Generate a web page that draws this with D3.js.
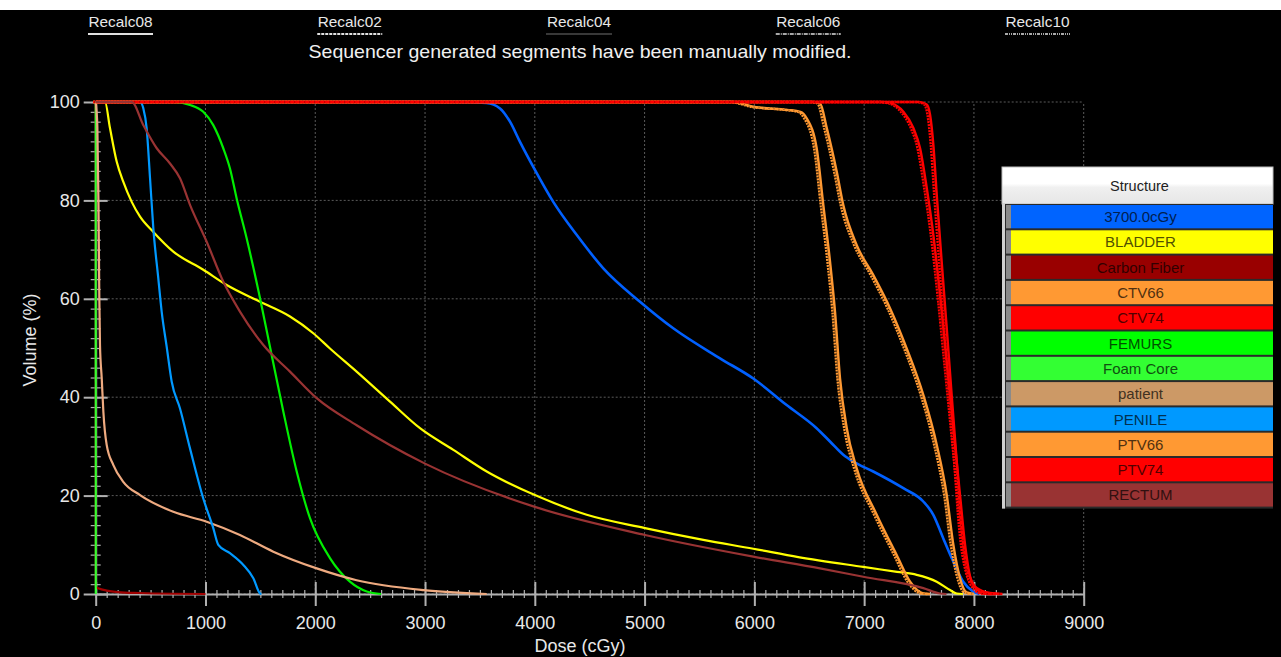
<!DOCTYPE html>
<html><head><meta charset="utf-8">
<script src="https://cdn.jsdelivr.net/npm/d3@7/dist/d3.min.js"></script>
<style>
html,body{margin:0;padding:0;background:#000;}
svg{display:block;font-family:"Liberation Sans",Arial,sans-serif;}
</style></head>
<body>
<svg id="chart" width="1281" height="657"></svg>
<script>
// ---------------- data ----------------
const planNames = ["Recalc08","Recalc02","Recalc04","Recalc06","Recalc10"];
const planDashes = ["none","3,1","1,1","4,1,1,1","3,1,1,1,1,1"];
const planWidths = [2,2,1,1.5,1.5];
const subtitle = "Sequencer generated segments have been manually modified.";
const doseTicks = [0,1000,2000,3000,4000,5000,6000,7000,8000,9000];
const volTicks = [0,20,40,60,80,100];
const structureNames = ["3700.0cGy","BLADDER","Carbon Fiber","CTV66","CTV74","FEMURS","Foam Core","patient","PENILE","PTV66","PTV74","RECTUM"];
const structureColors = ["#0064ff","#ffff00","#990000","#ff9933","#ff0000","#00ff00","#33ff33","#cc9966","#0099ff","#ff9933","#ff0000","#993333"];
const lineColors = ["#0060ff","#ffff00","#a00000","#ff9933","#ff0000","#00ee00","#33ff33","#eeaa80","#0099ff","#ff9933","#ff0000","#993333"];

// [dose cGy, volume %]
const iso3700 = [[0,100],[3300,100],[3560,99.8],[3683,98.7],[3774,96],[3865,91.9],[4001,86.2],[4168,79.7],[4381,73],[4624,66.2],[4958,59.4],[5261,54],[5687,47.9],[5990,43.8],[6294,38.4],[6567,33.7],[6689,31],[6810,28.3],[6901,26.9],[7083,24.9],[7357,21.5],[7539,18.8],[7630,16.1],[7721,11.3],[7812,6.6],[7903,2.5],[7994,0.5],[8050,0]];
const bladder = [[0,100],[85,100],[130,94.7],[191,87.9],[251,83.8],[328,79.7],[404,76.7],[525,73.6],[707,69.6],[980,65.9],[1193,62.8],[1497,59.4],[1770,56.4],[1982,53],[2134,49.9],[2377,45.2],[2681,39.1],[2954,33.7],[3258,29.3],[3562,24.9],[4001,20.1],[4473,16.1],[5004,13.4],[5535,11],[5990,9.2],[6400,7.5],[6992,5.5],[7300,4.5],[7479,3.9],[7661,2.5],[7782,0.8],[7843,0.1],[7900,0]];
const carbonFiber = [[0,100],[1,1.5],[30,1.1],[100,0.7],[200,0.4],[400,0.2],[700,0.05],[1000,0]];
const ctv66 = [[0,100],[6540,100],[6598,99.7],[6659,94.7],[6750,85.8],[6810,79],[6932,70.9],[7083,64.8],[7235,58.1],[7387,49.9],[7539,40.4],[7661,30.3],[7752,20.1],[7812,10],[7873,3.2],[7934,0.3],[8000,0]];
const ctv74 = [[0,100],[7500,100],[7570,99.5],[7600,97.4],[7630,91.3],[7661,81.1],[7706,67.5],[7752,54],[7797,40.4],[7843,26.9],[7888,13.4],[7949,4.5],[8025,1.2],[8146,0.2],[8260,0]];
const femurs = [[0,100],[706,100],[859,99.4],[980,98],[1071,95.3],[1162,90.6],[1223,86.5],[1284,80.4],[1375,72.3],[1497,60.1],[1588,50.2],[1709,37.1],[1831,24.9],[1952,15.4],[2134,7.3],[2316,2.5],[2469,0.5],[2600,0]];
const foamCore = [[0,100],[1,0]];
const patient = [[0,100],[15,95],[25,80],[33,60],[39,50.6],[55,43.8],[70,37],[100,30.3],[161,26.2],[251,22.8],[404,20.1],[707,16.7],[1011,14.7],[1314,12],[1618,8.6],[2013,5.2],[2377,2.8],[2985,0.8],[3562,0]];
const penile = [[0,100],[404,100],[434,98.7],[464,94.7],[495,84.5],[525,74.3],[570,64.2],[601,57.4],[647,50.2],[692,43.2],[768,37.7],[859,29.6],[980,19.4],[1071,13.4],[1117,10],[1223,8.3],[1345,5.9],[1436,3.2],[1497,0.1],[1510,0]];
const ptv66 = [[0,100],[5800,100],[6000,99],[6300,98.4],[6420,98],[6476,96.7],[6567,90.6],[6628,79],[6689,67.5],[6734,57.4],[6780,43.8],[6841,33.7],[6932,25.5],[7114,16.1],[7296,7.9],[7418,2.5],[7539,0.1],[7600,0]];
const ptv74 = [[0,100],[7150,100],[7235,99.8],[7357,98],[7448,94.7],[7509,90.6],[7570,82.5],[7630,73],[7691,60.8],[7752,47.2],[7812,33.7],[7873,20.1],[7919,10],[7980,2.5],[8085,0.1],[8200,0]];
const rectum = [[0,100],[328,100],[434,95.3],[556,90.6],[677,87.5],[768,84.5],[859,79.1],[1011,71.6],[1162,63.5],[1314,57.4],[1527,50.6],[1770,45.2],[2013,39.8],[2377,34.3],[3000,26.5],[4001,17.7],[5004,12],[5990,7.6],[6598,5.2],[6992,3.5],[7539,1.2],[7691,0.1],[7750,0]];
const seriesData = [iso3700,bladder,carbonFiber,ctv66,ctv74,femurs,foamCore,patient,penile,ptv66,ptv74,rectum];
const texturedSeries = ["CTV66","CTV74","PTV66","PTV74"];

// ---------------- layout ----------------
const svg = d3.select("#chart");
const W = 1281, H = 657;
svg.append("rect").attr("x",0).attr("y",0).attr("width",W).attr("height",H).attr("fill","#000");
svg.append("rect").attr("x",0).attr("y",0).attr("width",W).attr("height",10).attr("fill","#fff");

const x = d3.scaleLinear().domain([0,9000]).range([95.7,1083.7]);
const y = d3.scaleLinear().domain([0,100]).range([594,102]);

// plan tabs
const tabX = d3.scalePoint().domain(planNames).range([120.5,1037.5]);
const tabs = svg.append("g");
planNames.forEach((p,i)=>{
  tabs.append("text").attr("x",tabX(p)).attr("y",27).attr("text-anchor","middle")
    .attr("fill","#e8e8e8").attr("font-size",15).attr("textLength",64).attr("lengthAdjust","spacingAndGlyphs").text(p);
  tabs.append("line").attr("x1",tabX(p)-32.5).attr("x2",tabX(p)+32.5).attr("y1",34).attr("y2",34)
    .attr("stroke","#e0e0e0").attr("stroke-width",planWidths[i]).attr("stroke-dasharray",planDashes[i]);
});
svg.append("text").attr("x",580).attr("y",58).attr("text-anchor","middle")
  .attr("fill","#f0f0f0").attr("font-size",18.5).attr("textLength",543).attr("lengthAdjust","spacingAndGlyphs").text(subtitle);

// gridlines
const grid = svg.append("g").attr("stroke","#5a5a5a").attr("stroke-width",1).attr("stroke-dasharray","2,2");
doseTicks.forEach(d=>grid.append("line").attr("x1",x(d)).attr("x2",x(d)).attr("y1",y(0)).attr("y2",y(100)));
volTicks.forEach(v=>grid.append("line").attr("x1",x(0)).attr("x2",x(9000)).attr("y1",y(v)).attr("y2",y(v)));

// x axis
const axisCol = "#b0b0b0";
const xMinor = svg.append("g").attr("transform",`translate(0,${y(0)})`)
  .call(d3.axisBottom(x).tickValues(d3.range(0,9001,100)).tickSizeInner(4).tickSizeOuter(0).tickFormat(""));
xMinor.selectAll("line").attr("y1",-4).attr("stroke",axisCol).attr("stroke-width",1.2);
xMinor.select(".domain").attr("stroke",axisCol).attr("stroke-width",2);
const xMajor = svg.append("g").attr("transform",`translate(0,${y(0)})`)
  .call(d3.axisBottom(x).tickValues(doseTicks).tickFormat(d3.format("d")).tickSizeInner(12).tickSizeOuter(0).tickPadding(10));
xMajor.select(".domain").remove();
xMajor.selectAll("line").attr("y1",-12).attr("stroke",axisCol).attr("stroke-width",2);
xMajor.selectAll("text").attr("fill","#e8e8e8").attr("font-size",18).attr("font-family","Liberation Sans, Arial, sans-serif");

// y axis
const yMinor = svg.append("g").attr("transform",`translate(${x(0)},0)`)
  .call(d3.axisLeft(y).tickValues(d3.range(0,101,2)).tickSizeInner(5).tickSizeOuter(0).tickFormat(""));
yMinor.selectAll("line").attr("x1",5).attr("stroke",axisCol).attr("stroke-width",1.2);
yMinor.select(".domain").attr("stroke",axisCol).attr("stroke-width",2);
const yMajor = svg.append("g").attr("transform",`translate(${x(0)},0)`)
  .call(d3.axisLeft(y).tickValues(volTicks).tickSizeInner(12).tickSizeOuter(0).tickPadding(4));
yMajor.select(".domain").remove();
yMajor.selectAll("line").attr("x1",12).attr("stroke",axisCol).attr("stroke-width",2);
yMajor.selectAll("text").attr("fill","#e8e8e8").attr("font-size",18).attr("font-family","Liberation Sans, Arial, sans-serif");

// axis titles
svg.append("text").attr("transform","translate(36,340) rotate(-90)").attr("text-anchor","middle")
  .attr("fill","#e8e8e8").attr("font-size",18).text("Volume (%)");
svg.append("text").attr("x",580).attr("y",652).attr("text-anchor","middle")
  .attr("fill","#e8e8e8").attr("font-size",18).text("Dose (cGy)");

// curves
const line = d3.line().x(d=>x(d[0])).y(d=>y(d[1])).curve(d3.curveMonotoneX);
const curves = svg.append("g").attr("fill","none").attr("stroke-linejoin","round");
seriesData.forEach((s,i)=>{
  const name = structureNames[i];
  const col = lineColors[i];
  const tex = texturedSeries.includes(name);
  if (tex) {
    curves.append("path").attr("d",line(s)).attr("stroke",col).attr("stroke-width",2.5)
      .attr("stroke-dasharray","2,1").attr("transform","translate(-2.5,0)");
  }
  curves.append("path").attr("d",line(s)).attr("stroke",col).attr("stroke-width",tex?2.5:(i===0?2.6:2.2));
  if (tex) {
    curves.append("path").attr("d",line(s)).attr("stroke",d3.color(col).darker(2.2)).attr("stroke-width",1)
      .attr("stroke-dasharray","1,4").attr("transform","translate(-1.5,0)");
  }
});

// legend
const lg = svg.append("g");
const lx0 = 1002, lx1 = 1273, hy0 = 167, hy1 = 204, rowH = 25.3;
const grad = svg.append("defs").append("linearGradient").attr("id","hdr").attr("x1",0).attr("x2",0).attr("y1",0).attr("y2",1);
grad.append("stop").attr("offset","0%").attr("stop-color","#ffffff");
grad.append("stop").attr("offset","45%").attr("stop-color","#ffffff");
grad.append("stop").attr("offset","55%").attr("stop-color","#f0f0f0");
grad.append("stop").attr("offset","100%").attr("stop-color","#e6e6e6");
lg.append("rect").attr("x",lx0).attr("y",hy0).attr("width",lx1-lx0).attr("height",hy1-hy0)
  .attr("fill","url(#hdr)").attr("stroke","#bdbdbd").attr("stroke-width",1);
lg.append("text").attr("x",(lx0+lx1)/2+2).attr("y",hy0+24).attr("text-anchor","middle")
  .attr("fill","#222").attr("font-size",14.5).text("Structure");
lg.append("rect").attr("x",lx0).attr("y",hy1).attr("width",lx1-lx0).attr("height",rowH*structureNames.length+1)
  .attr("fill","#2a2a2a");
lg.append("rect").attr("x",lx0).attr("y",hy1).attr("width",3).attr("height",rowH*structureNames.length+1).attr("fill","#d0d0d0");
structureNames.forEach((n,i)=>{
  const ry = hy1 + i*rowH;
  lg.append("rect").attr("x",lx0+4).attr("y",ry+1).attr("width",5).attr("height",rowH-2).attr("fill","#8a8a8a");
  lg.append("rect").attr("x",lx0+9).attr("y",ry+1).attr("width",lx1-lx0-9).attr("height",rowH-2).attr("fill",structureColors[i]);
  lg.append("text").attr("x",(lx0+lx1)/2+3).attr("y",ry+rowH/2+5.5).attr("text-anchor","middle")
    .attr("font-size",15).attr("fill",d3.color(structureColors[i]).darker(3.2)).text(n);
});
</script>
</body></html>
